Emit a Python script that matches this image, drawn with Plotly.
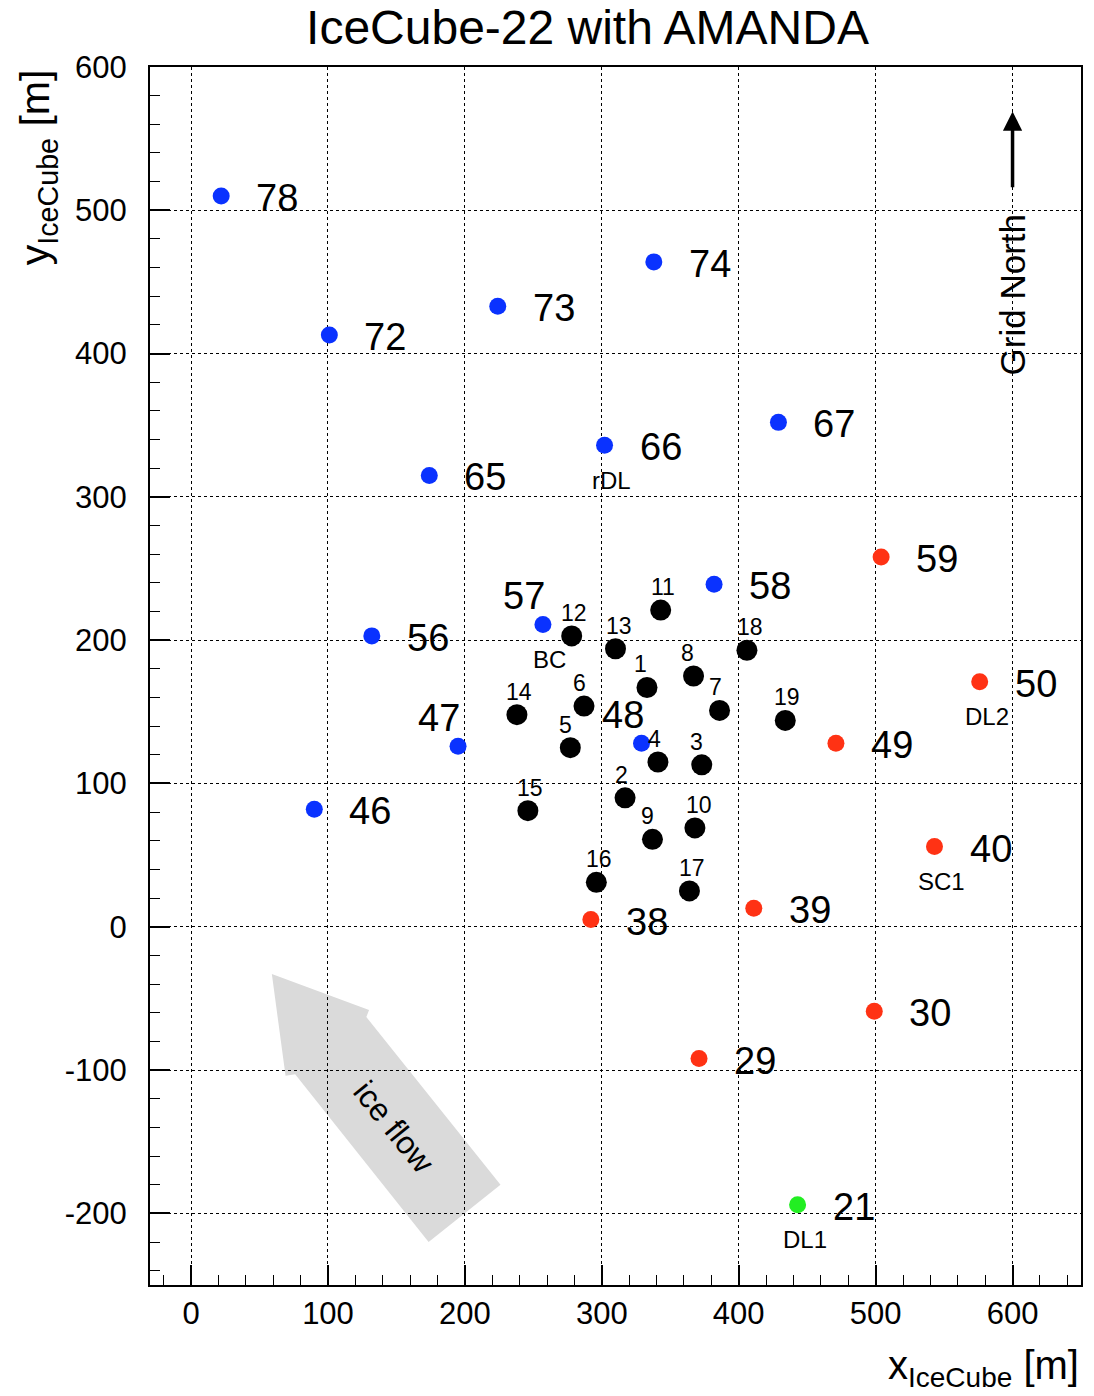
import plotly.graph_objects as go

# ---------------- data ----------------
blue_ids = ["78", "74", "73", "72", "67", "66", "65", "58", "57", "56", "47", "48", "46"]
blue_x = [22, 338, 224, 101, 429, 302, 174, 382, 257, 132, 195, 329, 90]
blue_y = [510, 464, 433, 413, 352, 336, 315, 239, 211, 203, 126, 128, 82]

red_ids = ["59", "50", "49", "40", "39", "38", "30", "29"]
red_x = [504, 576, 471, 543, 411, 292, 499, 371]
red_y = [258, 171, 128, 56, 13, 5, -59, -92]

green_ids = ["21"]
green_x = [443]
green_y = [-194]

black_ids = ["1", "2", "3", "4", "5", "6", "7", "8", "9", "10",
             "11", "12", "13", "14", "15", "16", "17", "18", "19"]
black_x = [333, 317, 373, 341, 277, 287, 386, 367, 337, 368,
           343, 278, 310, 238, 246, 296, 364, 406, 434]
black_y = [167, 90, 113, 115, 125, 154, 151, 175, 61, 69,
           221, 203, 194, 148, 81, 31, 25, 193, 144]

# secondary names attached to some strings
alias_of = {"57": "BC", "66": "rDL", "50": "DL2", "40": "SC1", "21": "DL1"}

x_ticks = [0, 100, 200, 300, 400, 500, 600]
y_ticks = [-200, -100, 0, 100, 200, 300, 400, 500, 600]

# ---------------- style ----------------
FONT = "Liberation Sans, Arial, Helvetica, sans-serif"
BLUE = "#0a32ff"
RED = "#ff3214"
GREEN = "#22ee22"

black_label_dx = [-6, -4, -5, -3, -5, -5, -4, -6, -5, 4,
                  2, 2, 3, 2, 2, 3, 3, 3, 2]
upper_left_labels = {"57", "47", "48"}

fig = go.Figure()

for xs, ys, col, size in [(blue_x, blue_y, BLUE, 17), (red_x, red_y, RED, 17),
                          (green_x, green_y, GREEN, 17), (black_x, black_y, "black", 21)]:
    fig.add_trace(go.Scatter(x=xs, y=ys, mode="markers",
                             marker=dict(color=col, size=size, line=dict(width=0)),
                             hoverinfo="skip", showlegend=False))

annotations = []
# big labels for coloured strings
for ids, xs, ys in [(blue_ids, blue_x, blue_y), (red_ids, red_x, red_y), (green_ids, green_x, green_y)]:
    for s, x, y in zip(ids, xs, ys):
        if s in upper_left_labels:
            annotations.append(dict(x=x, y=y, xref="x", yref="y", text=s, showarrow=False,
                                    xanchor="right", yanchor="middle", xshift=4, yshift=28,
                                    font=dict(size=38, color="black", family=FONT)))
        else:
            annotations.append(dict(x=x, y=y, xref="x", yref="y", text=s, showarrow=False,
                                    xanchor="left", yanchor="middle", xshift=33, yshift=-2,
                                    font=dict(size=38, color="black", family=FONT)))
        if s in alias_of:
            annotations.append(dict(x=x, y=y, xref="x", yref="y", text=alias_of[s], showarrow=False,
                                    xanchor="center", yanchor="middle", xshift=7, yshift=-35,
                                    font=dict(size=24, color="black", family=FONT)))

# small labels for AMANDA-era black strings
for s, x, y, dx in zip(black_ids, black_x, black_y, black_label_dx):
    annotations.append(dict(x=x, y=y, xref="x", yref="y", text=s, showarrow=False,
                            xanchor="center", yanchor="middle", xshift=dx, yshift=23,
                            font=dict(size=23, color="black", family=FONT)))

# Grid North arrow
annotations.append(dict(x=600, y=569, ax=600, ay=515, xref="x", yref="y", axref="x", ayref="y",
                        text="", showarrow=True, arrowhead=2, arrowsize=1.1, arrowwidth=3.5,
                        arrowcolor="black"))
annotations.append(dict(x=600, y=441, xref="x", yref="y", text="Grid North", showarrow=False,
                        textangle=-90, xanchor="center", yanchor="middle",
                        font=dict(size=35, color="black", family=FONT)))

# ice flow text
annotations.append(dict(x=148, y=-140, xref="x", yref="y", text="ice flow", showarrow=False,
                        textangle=51, xanchor="center", yanchor="middle",
                        font=dict(size=32, color="black", family=FONT)))

# axis titles
annotations.append(dict(x=1.0, y=-0.0685, xref="paper", yref="paper",
                        text="x<sub>IceCube</sub> [m]", showarrow=False,
                        xanchor="right", yanchor="middle",
                        font=dict(size=40, color="black", family=FONT)))
annotations.append(dict(x=-0.12, y=1.0, xref="paper", yref="paper",
                        text="y<sub>IceCube</sub> [m]", showarrow=False, textangle=-90,
                        xanchor="center", yanchor="top",
                        font=dict(size=41, color="black", family=FONT)))

# ice flow arrow polygon (data coordinates)
arrow_path = "M 59,-33 L 130,-58 L 128,-63 L 226,-180 L 173.5,-220 L 76,-103 L 69,-104 Z"

fig.update_layout(
    width=1094, height=1396,
    margin=dict(l=150, r=11, t=67, b=111),
    paper_bgcolor="white", plot_bgcolor="white",
    font=dict(family=FONT, color="black"),
    title=dict(text="IceCube-22 with AMANDA", x=587.5 / 1094, xanchor="center",
               y=1 - 27 / 1396, yanchor="middle", yref="container",
               font=dict(size=48, color="black", family=FONT)),
    annotations=annotations,
    shapes=[dict(type="path", path=arrow_path, xref="x", yref="y",
                 fillcolor="#dadada", line=dict(width=0), layer="below")],
    showlegend=False,
)

axis_common = dict(
    showline=True, linecolor="black", linewidth=2, mirror=True,
    ticks="inside", ticklen=20, tickwidth=1.5, tickcolor="black",
    showgrid=True, gridcolor="black", gridwidth=1, griddash="dot",
    zeroline=False,
    tickfont=dict(size=31, color="black", family=FONT),
    minor=dict(ticks="inside", ticklen=10, tickwidth=1.2, tickcolor="black",
               dtick=20, showgrid=False),
)

fig.update_xaxes(range=[-30, 650], tickmode="array", tickvals=x_ticks,
                 ticktext=[str(v) for v in x_ticks], ticklabelstandoff=0, **axis_common)
fig.update_yaxes(range=[-250, 600], tickmode="array", tickvals=y_ticks,
                 ticktext=[str(v) for v in y_ticks], ticklabelstandoff=15, **axis_common)

fig.write_html("out.html")
